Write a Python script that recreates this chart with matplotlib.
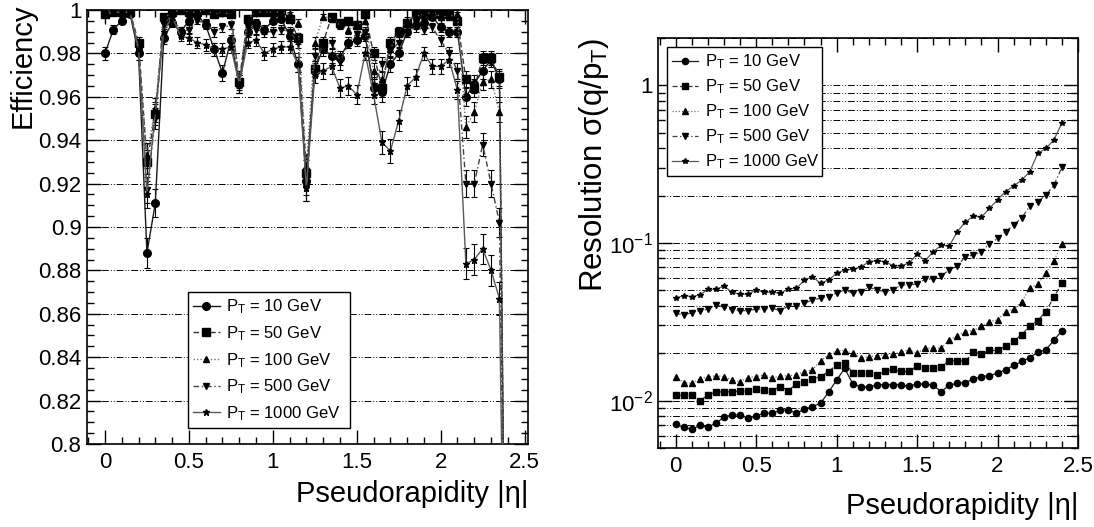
import numpy as np
import matplotlib.pyplot as plt
from matplotlib.ticker import MultipleLocator, FixedLocator, FixedFormatter, FormatStrFormatter, LogLocator, NullFormatter

plt.rcParams['font.family'] = ['Liberation Sans', 'DejaVu Sans']
plt.rcParams['mathtext.fontset'] = 'custom'
plt.rcParams['mathtext.rm'] = 'Liberation Sans'
plt.rcParams['mathtext.it'] = 'Liberation Sans:italic'

# Data

labels = ['P$_{\\mathrm{T}}$ = 10 GeV', 'P$_{\\mathrm{T}}$ = 50 GeV', 'P$_{\\mathrm{T}}$ = 100 GeV',
          'P$_{\\mathrm{T}}$ = 500 GeV', 'P$_{\\mathrm{T}}$ = 1000 GeV']

# efficiency vs |eta| (bins 0 .. 2.4 step 0.05)
eta_eff = np.round(np.arange(49) * 0.05, 2)
eff_10 = [0.980, 0.991, 0.995, 0.998, 0.980, 0.888, 0.911, 0.987, 0.994, 0.990, 0.995, 0.998, 0.993,
          0.982, 0.971, 0.986, 0.966, 0.990, 0.994, 0.991, 0.995, 0.996, 0.988, 0.975, 0.921, 0.973,
          0.982, 0.979, 0.978, 0.985, 0.986, 0.988, 0.964, 0.962, 0.975, 0.980, 0.990, 0.993, 0.994,
          0.997, 0.992, 0.990, 0.990, 0.960, 0.966, 0.972, 0.977, 0.968, 0.60]
eff_50 = [0.998, 0.999, 0.999, 0.999, 0.985, 0.930, 0.952, 0.997, 0.999, 1.000, 0.999, 0.999, 1.000,
          0.998, 0.999, 0.998, 0.967, 0.996, 0.999, 0.999, 0.999, 1.000, 0.996, 0.987, 0.925, 0.973,
          0.985, 0.997, 0.994, 0.995, 0.993, 0.998, 0.980, 0.964, 0.985, 0.990, 0.994, 0.998, 0.998,
          1.000, 0.998, 0.998, 0.995, 0.968, 0.964, 0.978, 0.978, 0.969, 0.60]
eff_100 = [0.999, 1.000, 1.000, 0.999, 0.983, 0.933, 0.955, 0.996, 0.999, 1.000, 0.999, 0.999, 1.000,
           0.998, 0.999, 0.998, 0.968, 0.996, 0.999, 0.999, 0.999, 0.999, 0.998, 0.994, 0.928, 0.985,
           0.997, 0.996, 0.993, 0.991, 0.993, 0.995, 0.972, 0.968, 0.982, 0.990, 0.995, 0.997, 0.998,
           0.999, 0.997, 0.997, 0.998, 0.946, 0.953, 0.967, 0.968, 0.953, 0.60]
eff_500 = [0.998, 0.999, 0.999, 0.999, 0.980, 0.917, 0.950, 0.993, 0.998, 0.990, 0.991, 0.995, 0.994,
           0.990, 0.992, 0.993, 0.966, 0.992, 0.991, 0.990, 0.990, 0.991, 0.990, 0.985, 0.918, 0.979,
           0.984, 0.985, 0.976, 0.985, 0.989, 0.990, 0.965, 0.975, 0.981, 0.985, 0.990, 0.992, 0.991,
           0.992, 0.986, 0.980, 0.972, 0.920, 0.920, 0.938, 0.920, 0.902, 0.60]
eff_1000 = [0.998, 0.999, 0.999, 0.999, 0.982, 0.915, 0.953, 0.990, 0.997, 0.988, 0.987, 0.985, 0.984,
            0.982, 0.982, 0.983, 0.966, 0.985, 0.986, 0.980, 0.982, 0.983, 0.983, 0.975, 0.918, 0.970,
            0.972, 0.974, 0.964, 0.965, 0.961, 0.980, 0.961, 0.939, 0.935, 0.949, 0.965, 0.969, 0.980,
            0.974, 0.974, 0.977, 0.963, 0.883, 0.885, 0.890, 0.880, 0.867, 0.60]
n_events = 2000  # per bin, for binomial error bars

# resolution sigma(q/pT) vs |eta|
eta_res = np.round(np.arange(49) * 0.05, 2)
res_10 = [0.00709, 0.00675, 0.00659, 0.00695, 0.00678, 0.00719, 0.00785, 0.00811, 0.00811, 0.00773,
          0.00799, 0.00832, 0.00832, 0.00865, 0.00873, 0.00832, 0.00881, 0.00916, 0.00962, 0.0113,
          0.0135, 0.0160, 0.0128, 0.0122, 0.0122, 0.0126, 0.0126, 0.0126, 0.0126, 0.0123, 0.0128,
          0.0127, 0.0125, 0.0114, 0.0125, 0.0129, 0.0130, 0.0137, 0.0142, 0.0144, 0.0149, 0.0157,
          0.0167, 0.0177, 0.0187, 0.0203, 0.0210, 0.0241, 0.0278]
res_50 = [0.0108, 0.0108, 0.0108, 0.0100, 0.0108, 0.01135, 0.01135, 0.0114, 0.01146, 0.01146,
          0.0118, 0.0117, 0.01157, 0.01228, 0.01157, 0.01277, 0.0131, 0.01368, 0.0142, 0.01528,
          0.01684, 0.0174, 0.01507, 0.01507, 0.01507, 0.01456, 0.0153, 0.0158, 0.0153, 0.0153, 0.0166,
          0.0160, 0.0160, 0.0164, 0.0179, 0.0179, 0.0177, 0.0203, 0.0198, 0.0208, 0.0208, 0.0223,
          0.0240, 0.0261, 0.0298, 0.0322, 0.0367, 0.0453, 0.0555]
res_100 = [0.0142, 0.0130, 0.0129, 0.0137, 0.0142, 0.01435, 0.0142, 0.0135, 0.0132, 0.0140, 0.0142,
           0.0146, 0.01386, 0.01435, 0.01435, 0.0146, 0.01528, 0.01566, 0.01787, 0.0195, 0.0207,
           0.0207, 0.0200, 0.0186, 0.0190, 0.0193, 0.0195, 0.0198, 0.0202, 0.0210, 0.0200, 0.0215,
           0.0215, 0.0215, 0.0243, 0.0257, 0.0274, 0.0278, 0.0298, 0.0317, 0.0325, 0.0367, 0.0380,
           0.0425, 0.0516, 0.0550, 0.0643, 0.0769, 0.0985]
res_500 = [0.0358, 0.0349, 0.0362, 0.0372, 0.0380, 0.0405, 0.0391, 0.0376, 0.0372, 0.0372, 0.0381,
           0.0381, 0.0385, 0.0372, 0.0398, 0.0398, 0.0415, 0.0435, 0.0446, 0.0457, 0.0480, 0.0504,
           0.0480, 0.0491, 0.0524, 0.0504, 0.0491, 0.0504, 0.0542, 0.0542, 0.0550, 0.0589, 0.0589,
           0.0618, 0.0674, 0.0715, 0.0819, 0.0839, 0.0881, 0.0985, 0.107, 0.118, 0.130, 0.144, 0.172,
           0.183, 0.201, 0.233, 0.302]
res_1000 = [0.0446, 0.0464, 0.0457, 0.0468, 0.0508, 0.0508, 0.0533, 0.0487, 0.0473, 0.0473, 0.0504,
            0.0487, 0.0487, 0.0480, 0.0511, 0.0516, 0.0582, 0.0611, 0.0555, 0.0582, 0.0643, 0.0674,
            0.0681, 0.0702, 0.0761, 0.0772, 0.0761, 0.0718, 0.0718, 0.0743, 0.0852, 0.0772, 0.0881,
            0.0967, 0.0957, 0.118, 0.136, 0.148, 0.146, 0.166, 0.188, 0.212, 0.230, 0.251, 0.283,
            0.371, 0.398, 0.450, 0.579]

eff_series = [eff_10, eff_50, eff_100, eff_500, eff_1000]
res_series = [res_10, res_50, res_100, res_500, res_1000]

# Style

markers = ['o', 's', '^', 'v', '*']
msize_l = [5.5, 5.5, 5.0, 5.0, 4.5]
msize_r = [4.5, 4.5, 4.5, 4.5, 4.0]
lstyles = ['-', (0, (4, 2)), (0, (1, 1.5)), (0, (4, 2, 1, 2)), '-']
lcolors = ['0.1', '0.2', '0.45', '0.25', '0.35']
gridstyle = (0, (7, 2, 1, 2, 1, 2))

fig = plt.figure(figsize=(10.94, 5.27), dpi=100)
ax1 = fig.add_axes([87 / 1094, 1 - 444 / 527, 441 / 1094, 434 / 527])
ax2 = fig.add_axes([658 / 1094, 1 - 448 / 527, 420 / 1094, 410 / 527])

# Left: efficiency
handles = []
for k in range(5):
    e = np.array(eff_series[k])
    err = np.sqrt(e * (1 - e) / n_events)
    err[-1] = 0
    ax1.errorbar(eta_eff, e, yerr=err, fmt='none', ecolor='k', elinewidth=0.8, capsize=2.5, capthick=0.8, zorder=3)
    h, = ax1.plot(eta_eff, e, linestyle=lstyles[k], color=lcolors[k], lw=1.0,
                  marker=markers[k], ms=msize_l[k], mfc='k', mec='k', zorder=4)
    handles.append(h)

ax1.set_xlim(-0.107, 2.52)
ax1.set_ylim(0.8, 1.0)
ax1.xaxis.set_major_locator(MultipleLocator(0.5))
ax1.xaxis.set_minor_locator(MultipleLocator(0.1))
ax1.yaxis.set_major_locator(MultipleLocator(0.02))
ax1.yaxis.set_minor_locator(MultipleLocator(0.005))
ax1.xaxis.set_major_formatter(FormatStrFormatter('%g'))
ax1.yaxis.set_major_formatter(FormatStrFormatter('%g'))
ax1.yaxis.grid(True, which='major', linestyle=gridstyle, color='k', lw=0.7)

leg1 = ax1.legend(handles, labels, loc='lower left', bbox_to_anchor=(0.229, 0.037, 0.367, 0.313),
                  mode='expand', fontsize=12, labelspacing=0.48, handlelength=1.6, handletextpad=0.4,
                  borderpad=0.3, borderaxespad=0, fancybox=False, framealpha=1, edgecolor='k')
leg1.get_frame().set_linewidth(1.0)

# Right: resolution
handles2 = []
for k in range(5):
    h, = ax2.plot(eta_res, res_series[k], linestyle=lstyles[k], color=lcolors[k], lw=0.9,
                  marker=markers[k], ms=msize_r[k], mfc='k', mec='k', zorder=4)
    handles2.append(h)

ax2.set_yscale('log')
ax2.set_xlim(-0.11, 2.5)
ax2.set_ylim(0.005, 2.0)
ax2.xaxis.set_major_locator(MultipleLocator(0.5))
ax2.xaxis.set_minor_locator(MultipleLocator(0.1))
ax2.xaxis.set_major_formatter(FormatStrFormatter('%g'))
ax2.yaxis.set_major_locator(FixedLocator([0.01, 0.1, 1.0]))
ax2.yaxis.set_major_formatter(FixedFormatter(['$10^{-2}$', '$10^{-1}$', '1']))
ax2.yaxis.set_minor_locator(LogLocator(base=10, subs=np.arange(2, 10)))
ax2.yaxis.set_minor_formatter(NullFormatter())
ax2.yaxis.grid(True, which='both', linestyle=gridstyle, color='k', lw=0.7)

leg2 = ax2.legend(handles2, labels, loc='lower left', bbox_to_anchor=(0.021, 0.663, 0.369, 0.313),
                  mode='expand', fontsize=12, labelspacing=0.38, handlelength=1.6, handletextpad=0.4,
                  borderpad=0.3, borderaxespad=0, fancybox=False, framealpha=1, edgecolor='k')
leg2.get_frame().set_linewidth(1.0)

for ax in (ax1, ax2):
    ax.tick_params(which='both', direction='in', top=True, right=True, labelsize=16, width=1.0)
    ax.tick_params(which='major', length=10)
    ax.tick_params(which='minor', length=5)
    ax.tick_params(axis='x', pad=6)
    ax.tick_params(axis='y', pad=4)
    for s in ax.spines.values():
        s.set_linewidth(1.2)

# Axis titles
fig.text(23 / 1094, 1 - 4 / 527, 'Efficiency', rotation=90, ha='center', va='top', fontsize=21)
fig.text(528 / 1094, 1 - 502 / 527, 'Pseudorapidity |η|', ha='right', va='baseline', fontsize=21)
fig.text(594 / 1094, 1 - 38 / 527, 'Resolution σ(q/p$_{\\mathrm{T}}$)', rotation=90, ha='center', va='top', fontsize=22.5)
fig.text(1078 / 1094, 1 - 514 / 527, 'Pseudorapidity |η|', ha='right', va='baseline', fontsize=21)

fig.savefig('out.png', dpi=100)
